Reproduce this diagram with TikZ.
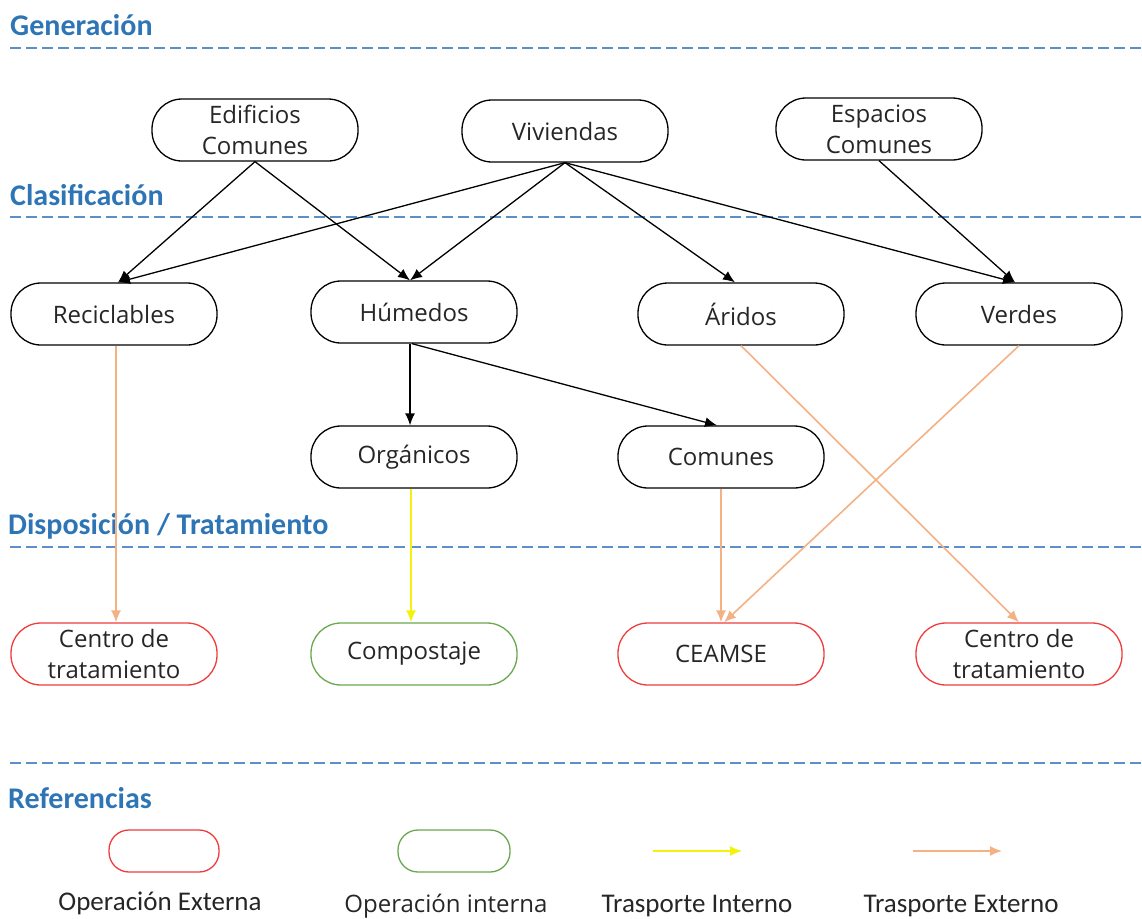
\documentclass[tikz,border=0pt]{standalone}
\usepackage{fontspec}
\setmainfont{Carlito}
\newfontfamily\nodefont{Open Sans}
\usetikzlibrary{arrows.meta}
\definecolor{headblue}{HTML}{2E75B6}
\definecolor{lineblue}{HTML}{5B8FC9}
\definecolor{extorange}{HTML}{F4B183}
\definecolor{intyellow}{HTML}{F2F20A}
\definecolor{extred}{HTML}{F03C3C}
\definecolor{intgreen}{HTML}{6AA84F}
\definecolor{textgray}{HTML}{262626}
\begin{document}
\begin{tikzpicture}[x=1pt,y=-1pt,
  box/.style={draw=black, line width=1.3pt, rectangle, rounded corners=30pt,
    minimum width=206pt, minimum height=62pt, align=center, inner sep=2pt,
    text=textgray, font=\nodefont\fontsize{24}{31}\selectfont},
  extbox/.style={box, draw=extred},
  intbox/.style={box, draw=intgreen},
  heading/.style={anchor=west, text=headblue, inner sep=0pt, font=\fontsize{30}{34}\selectfont\bfseries},
  sep/.style={draw=lineblue, line width=1.6pt, dash pattern=on 11pt off 5pt},
  flow/.style={draw=black, line width=1.3pt, -{Latex[length=12pt,width=10pt]}},
  extflow/.style={draw=extorange, line width=1.6pt, -{Latex[length=12pt,width=10pt]}},
  intflow/.style={draw=intyellow, line width=1.6pt, -{Latex[length=12pt,width=10pt]}},
  legtext/.style={text=textgray, font=\fontsize{27}{30}\selectfont, inner sep=0pt},
  legtextb/.style={text=textgray, font=\nodefont\fontsize{24}{30}\selectfont, inner sep=0pt}
]
\useasboundingbox (0,0) rectangle (1142,918);

% section headings and separators
\node[heading] (hgen) at (10,25) {Generación};
\node[heading] (hcla) at (10,195) {Clasificación};
\node[heading] (hdis) at (8,526) {Disposición / Tratamiento};
\node[heading] (href) at (8,798) {Referencias};
\coordinate (s1a) at (10,48);  \coordinate (s1b) at (1142,48);
\coordinate (s2a) at (10,217); \coordinate (s2b) at (1142,217);
\coordinate (s3a) at (10,547); \coordinate (s3b) at (1142,547);
\coordinate (s4a) at (10,763); \coordinate (s4b) at (1142,763);
\draw[sep] (s1a) -- (s1b);
\draw[sep] (s2a) -- (s2b);
\draw[sep] (s3a) -- (s3b);
\draw[sep] (s4a) -- (s4b);

% generation sources
\node[box] (edif) at (255,130) {Edificios\\Comunes};
\node[box] (viv)  at (565,131) {Viviendas};
\node[box] (esp)  at (879,129) {Espacios\\Comunes};

% classification
\node[box] (rec) at (114,314) {Reciclables};
\node[box] (hum) at (414,312) {Húmedos};
\node[box] (ari) at (741,314) {Áridos};
\node[box] (ver) at (1019,314) {Verdes};
\node[box] (org) at (414,457) {Orgánicos};
\node[box] (com) at (721,457) {Comunes};

% disposal / treatment
\node[extbox] (ct1)  at (114,654) {Centro de\\tratamiento};
\node[intbox] (comp) at (414,654) {Compostaje};
\node[extbox] (ceam) at (721,654) {CEAMSE};
\node[extbox] (ct2)  at (1019,654) {Centro de\\tratamiento};

% classification flows
\draw[flow] (edif.south) -- ([xshift=4pt]rec.north);
\draw[flow] (edif.south) -- ([xshift=-4pt]hum.north);
\draw[flow] (viv.south) -- ([xshift=4pt]rec.north);
\draw[flow] (viv.south) -- ([xshift=-4pt]hum.north);
\draw[flow] (viv.south) -- ([xshift=-6pt]ari.north);
\draw[flow] (viv.south) -- ([xshift=-4pt]ver.north);
\draw[flow] (esp.south) -- ([xshift=-4pt]ver.north);
\draw[flow] ([xshift=-4pt]hum.south) -- ([xshift=-4pt]org.north);
\draw[flow] ([xshift=-2pt]hum.south) -- ([xshift=-4pt]com.north);

% transport flows
\draw[extflow] ([xshift=2pt]rec.south) -- ([xshift=2pt]ct1.north);
\draw[intflow] ([xshift=-3pt]org.south) -- ([xshift=-3pt]comp.north);
\draw[extflow] (com.south) -- (ceam.north);
\draw[extflow] (ver.south) -- ([xshift=3pt]ceam.north);
\draw[extflow] (ari.south) -- (ct2.north);

% legend
\node[extbox, minimum width=110pt, minimum height=42pt, rounded corners=20pt] (lext) at (164,851) {};
\node[intbox, minimum width=112pt, minimum height=42pt, rounded corners=20pt] (lint) at (454,851) {};
\coordinate (ly1) at (653,851); \coordinate (ly2) at (742,851);
\coordinate (lo1) at (913,851); \coordinate (lo2) at (1002,851);
\draw[intflow] (ly1) -- (ly2);
\draw[extflow] (lo1) -- (lo2);
\node[legtext]  (tlext) at (160,903) {Operación Externa};
\node[legtextb] (tlint) at (446,906) {Operación interna};
\node[legtext]  (tlyel) at (697,906) {Trasporte Interno};
\node[legtext]  (tlora) at (961,906) {Trasporte Externo};
\end{tikzpicture}
\end{document}
